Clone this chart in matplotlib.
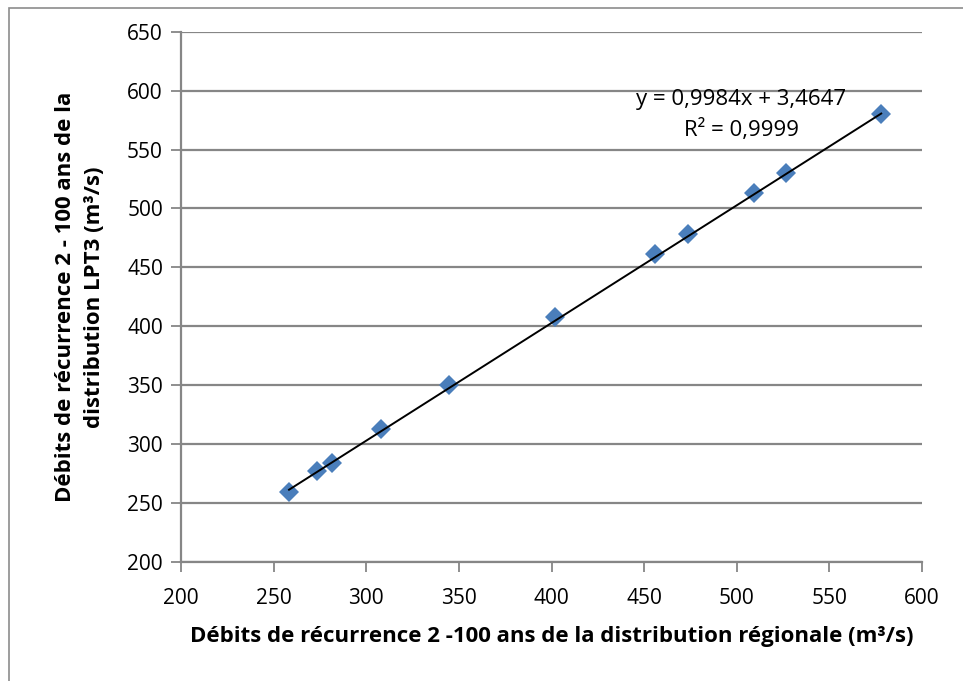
import numpy as np
import matplotlib
matplotlib.use("Agg")
from matplotlib import pyplot as plt
from matplotlib.patches import Rectangle

# debits 2-100 ans : distribution regionale (x) vs LPT3 (y), m3/s
q_regional = [258.3, 273.4, 281.5, 308.0, 344.7, 402.0, 456.0, 473.8, 509.4, 526.7, 578.0]
q_lpt3 = [259.4, 277.2, 284.0, 312.9, 350.2, 408.0, 461.4, 478.3, 513.1, 530.0, 580.2]

slope = 0.9984
intercept = 3.4647
eq_text = "y = 0,9984x + 3,4647"
r2_text = "R² = 0,9999"

x_ticks = [200, 250, 300, 350, 400, 450, 500, 550, 600]
y_ticks = [200, 250, 300, 350, 400, 450, 500, 550, 600, 650]

grey = "#868686"
blue = "#4A7EBB"

fig = plt.figure(figsize=(9.63, 6.81), dpi=100)
ax = fig.add_axes([0.188, 0.1747, 0.7694, 0.7788])

# chart area border
fig.patches.append(Rectangle((9 / 963, -0.01), 1.0, 1.0 - 0.01 + 0.008,
                             transform=fig.transFigure, fill=False,
                             edgecolor="#8c8c8c", linewidth=1.2))

ax.set_xlim(200, 600)
ax.set_ylim(200, 650)
ax.set_xticks(x_ticks)
ax.set_yticks(y_ticks)
ax.set_xticklabels([str(v) for v in x_ticks], family="Open Sans", fontsize=15)
ax.set_yticklabels([str(v) for v in y_ticks], family="Open Sans", fontsize=15)
ax.tick_params(direction="out", length=7, width=1.3, color=grey)
ax.tick_params(axis="x", pad=12)
ax.tick_params(axis="y", pad=6)

ax.grid(True, axis="y", color=grey, linewidth=1.6)
ax.set_axisbelow(True)
for s in ["top", "right"]:
    ax.spines[s].set_visible(False)
for s in ["left", "bottom"]:
    ax.spines[s].set_color(grey)
    ax.spines[s].set_linewidth(1.6)

# trend line
xs = np.array([min(q_regional), max(q_regional)])
ax.plot(xs, slope * xs + intercept, color="black", linewidth=1.4, zorder=4)

ax.plot(q_regional, q_lpt3, linestyle="none", marker="D", markersize=10,
        color=blue, markeredgewidth=0, zorder=3)

ax.text(741 / 963, 1 - 100 / 681, eq_text, transform=fig.transFigure,
        ha="center", va="center", family="Open Sans", fontsize=16)
ax.text(741 / 963, 1 - 130 / 681, r2_text, transform=fig.transFigure,
        ha="center", va="center", family="Open Sans", fontsize=16)

ax.set_xlabel("Débits de récurrence 2 -100 ans de la distribution régionale (m³/s)",
              family="Open Sans", fontweight="bold", fontsize=16, labelpad=12)
ax.set_ylabel("Débits de récurrence 2 - 100 ans de la\ndistribution LPT3 (m³/s)",
              family="Open Sans", fontweight="bold", fontsize=16, labelpad=16,
              linespacing=1.5)

fig.savefig("out.png", dpi=100)
